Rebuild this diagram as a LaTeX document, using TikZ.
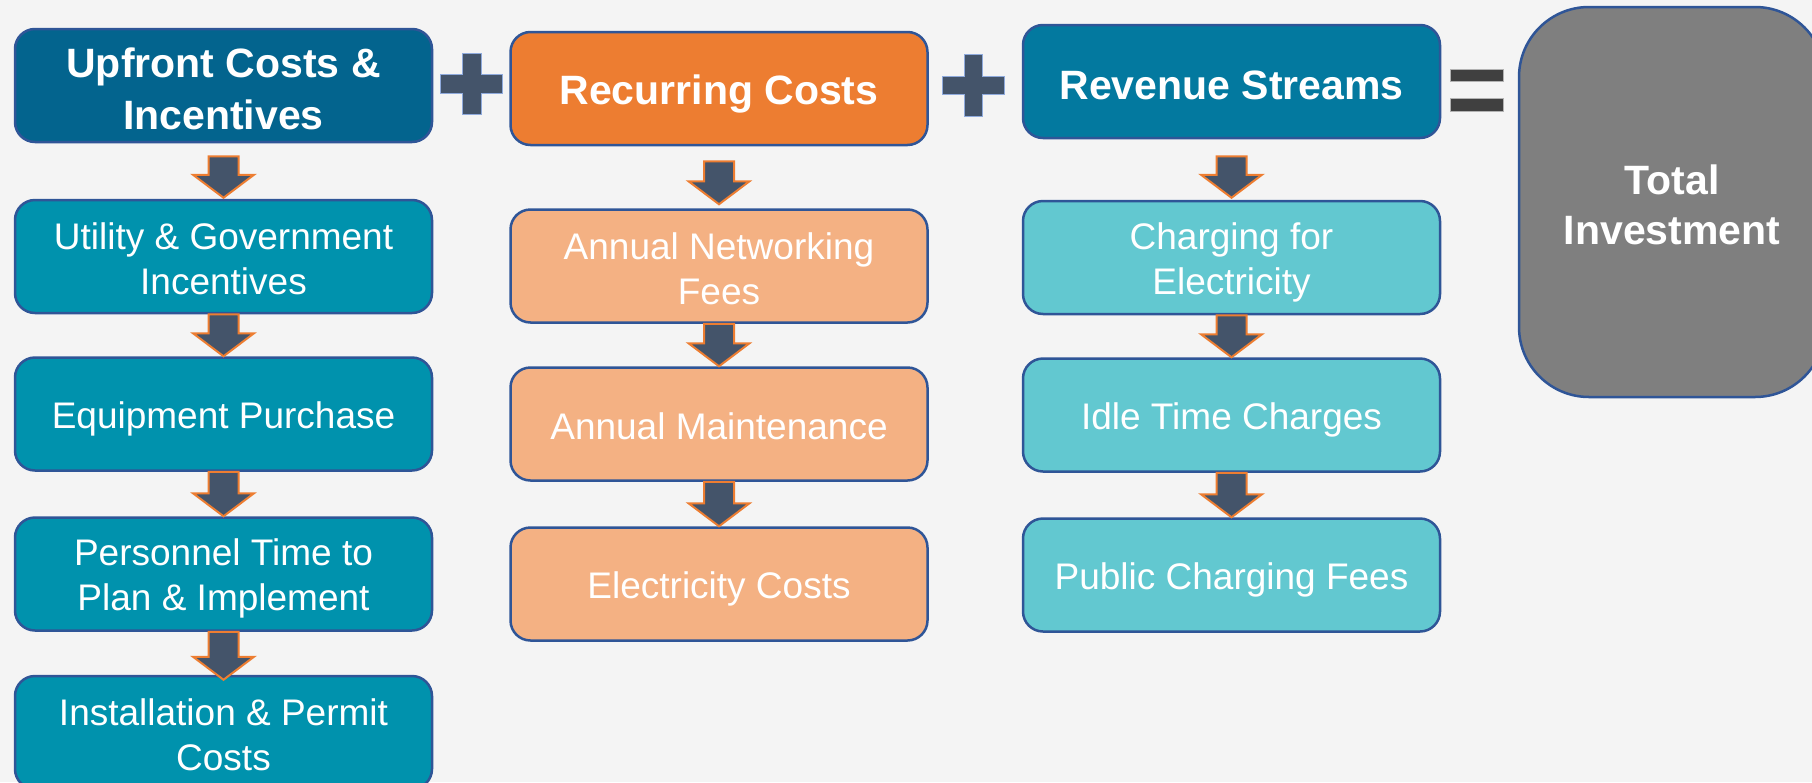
\documentclass[tikz,border=0pt]{standalone}
\usepackage{fontspec}
\setmainfont{Liberation Sans}
\usetikzlibrary{calc}
\definecolor{bg}{HTML}{F4F4F4}
\definecolor{hdrA}{HTML}{03648E}
\definecolor{hdrC}{HTML}{03799F}
\definecolor{subA}{HTML}{0092AD}
\definecolor{hdrB}{HTML}{ED7D31}
\definecolor{subB}{HTML}{F4B183}
\definecolor{subC}{HTML}{62C8D0}
\definecolor{totalgray}{HTML}{7F7F7F}
\definecolor{edge}{HTML}{2F5597}
\definecolor{arrowfill}{HTML}{44546A}
\definecolor{arrowedge}{HTML}{ED7D31}
\definecolor{opedge}{HTML}{8FAADC}
\definecolor{eqfill}{HTML}{404040}
\newcommand\ls{\rule[-0.13em]{0pt}{1.117em}}
\tikzset{
  box/.style={draw=edge, line width=2.5pt, rounded corners=20pt, minimum width=417pt,
    minimum height=113pt, text=white, align=center, inner sep=0pt},
  hdr/.style={box, font=\fontsize{41}{52}\selectfont\bfseries},
  subbox/.style={box, font=\fontsize{37}{45}\selectfont},
  barrow/.style={fill=arrowfill, draw=arrowedge, line width=2pt, line join=miter},
  opsign/.style={fill=arrowfill, draw=opedge, line width=1pt},
  eqsign/.style={fill=eqfill, draw=gray!60, line width=1pt},
}
\newcommand\blockarr[4]{%
  \draw[barrow] let \p1=(#1.south), \p2=(#2.north) in
   (\x1-15pt,\y1-#3) -- (\x1+15pt,\y1-#3) -- (\x1+15pt,\y2+23pt+#4) -- (\x1+30.5pt,\y2+23pt+#4)
   -- (\x1,\y2+#4) -- (\x1-30.5pt,\y2+23pt+#4) -- (\x1-15pt,\y2+23pt+#4) -- cycle;}
\begin{document}
\begin{tikzpicture}[x=1pt,y=-1pt]
\clip (0,0) rectangle (1812,782);
\fill[bg] (0,0) rectangle (1812,782);
% left column
\node[hdr, fill=hdrA] (up) at (223.5,85.5) {\ls Upfront Costs \&\\\ls Incentives};
\node[subbox, fill=subA] (util) at (223.5,256.5) {\ls Utility \& Government\\\ls Incentives};
\node[subbox, fill=subA] (equip) at (223.5,414) {\ls Equipment Purchase};
\node[subbox, fill=subA] (pers) at (223.5,574) {\ls Personnel Time to\\\ls Plan \& Implement};
\node[subbox, fill=subA] (inst) at (223.5,732.5) {\ls Installation \& Permit\\\ls Costs};
% middle column
\node[hdr, fill=hdrB] (rec) at (719,88.5) {\ls Recurring Costs};
\node[subbox, fill=subB] (net) at (719,266) {\ls Annual Networking\\\ls Fees};
\node[subbox, fill=subB] (maint) at (719,424) {\ls Annual Maintenance};
\node[subbox, fill=subB] (elec) at (719,584) {\ls Electricity Costs};
% right column
\node[hdr, fill=hdrC] (rev) at (1231.5,81.5) {\ls Revenue Streams};
\node[subbox, fill=subC] (charg) at (1231.5,257.5) {\ls Charging for\\\ls Electricity};
\node[subbox, fill=subC] (idle) at (1231.5,415) {\ls Idle Time Charges};
\node[subbox, fill=subC] (pub) at (1231.5,575) {\ls Public Charging Fees};
% total
\node[box, fill=totalgray, minimum width=306pt, minimum height=390pt, rounded corners=70pt,
  font=\fontsize{41}{50}\selectfont\bfseries] (tot) at (1672,202) {\ls Total\\\ls Investment};
% arrows
\blockarr{up}{util}{13pt}{1pt}
\blockarr{util}{equip}{0pt}{0pt}
\blockarr{equip}{pers}{0pt}{0pt}
\blockarr{pers}{inst}{0pt}{-5pt}
\blockarr{rec}{net}{15pt}{4pt}
\blockarr{net}{maint}{0pt}{0pt}
\blockarr{maint}{elec}{0pt}{0pt}
\blockarr{rev}{charg}{17pt}{2pt}
\blockarr{charg}{idle}{0pt}{0pt}
\blockarr{idle}{pub}{0pt}{0pt}
% plus signs
\draw[opsign] (462,53) -- (481,53) -- (481,74) -- (502,74) -- (502,93) -- (481,93) -- (481,114)
  -- (462,114) -- (462,93) -- (440,93) -- (440,74) -- (462,74) -- cycle;
\draw[opsign] (964,54) -- (982,54) -- (982,76) -- (1004,76) -- (1004,94) -- (982,94) -- (982,116)
  -- (964,116) -- (964,94) -- (942,94) -- (942,76) -- (964,76) -- cycle;
% equals sign
\draw[eqsign] (1450,69) rectangle (1503,81);
\draw[eqsign] (1450,98) rectangle (1503,111);
\end{tikzpicture}
\end{document}
